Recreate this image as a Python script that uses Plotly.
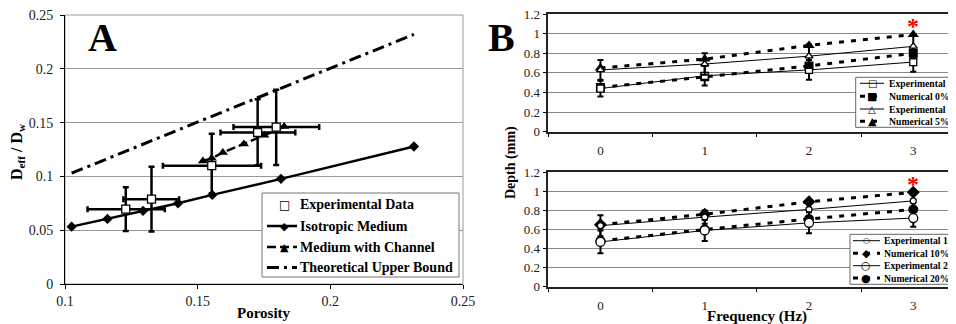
import plotly.graph_objects as go

# The page body adds an 8px margin, so the figure is laid out 8px smaller and
# every target position (in window pixels) is shifted by that offset.
WIN_W, WIN_H = 956, 324
OFF = 8
W, H = WIN_W - OFF, WIN_H - OFF
SERIF = "Liberation Serif"

# ---------------- Panel A data ----------------
iso_x = [0.1025, 0.116, 0.1294, 0.1426, 0.1555, 0.1814, 0.2315]
iso_y = [0.0533, 0.0605, 0.068, 0.075, 0.0828, 0.0977, 0.1278]

chan_x = [0.152, 0.1553, 0.1595, 0.1674, 0.1751, 0.1826]
chan_y = [0.1143, 0.1168, 0.1222, 0.130, 0.1382, 0.1463]

bound_x = [0.1025, 0.2315]
bound_y = [0.103, 0.232]

exp_x = [0.1229, 0.1326, 0.1553, 0.1726, 0.1796]
exp_y = [0.0695, 0.0788, 0.110, 0.1408, 0.1458]
exp_x_lo = [0.1085, 0.1220, 0.1369, 0.1586, 0.1635]
exp_x_hi = [0.1376, 0.1430, 0.1739, 0.1868, 0.1958]
exp_y_lo = [0.0493, 0.0487, 0.0844, 0.1103, 0.1105]
exp_y_hi = [0.0900, 0.1090, 0.1396, 0.1718, 0.1805]

# ---------------- Panel B data ----------------
freq = [0, 1, 2, 3]
exp0 = [0.44, 0.57, 0.63, 0.71]
num0 = [0.45, 0.56, 0.67, 0.80]
exp5 = [0.63, 0.69, 0.77, 0.87]
num5 = [0.65, 0.74, 0.88, 0.99]
err0 = [0.08, 0.10, 0.10, 0.10]
err5 = [0.10, 0.11, 0.12, 0.12]

exp10 = [0.64, 0.73, 0.81, 0.90]
num10 = [0.65, 0.76, 0.89, 0.99]
exp20 = [0.47, 0.59, 0.67, 0.72]
num20 = [0.48, 0.60, 0.71, 0.81]
err10 = [0.11, 0.07, 0.10, 0.10]
err20 = [0.12, 0.11, 0.11, 0.09]

star_y = 1.13

legA = ["Experimental Data", "Isotropic Medium", "Medium with Channel", "Theoretical Upper Bound"]
legB1 = ["Experimental 0%", "Numerical 0%", "Experimental 5%", "Numerical 5%"]
legB2 = ["Experimental 10%", "Numerical 10%", "Experimental 20%", "Numerical 20%"]


def px(x):
    return (x - OFF) / W


def py(y):
    return (H - (y - OFF)) / H


fig = go.Figure()

# ---- Panel A traces ----
fig.add_trace(go.Scatter(x=bound_x, y=bound_y, mode="lines", name=legA[3], showlegend=False,
                         line=dict(color="black", width=3, dash="12px,5px,3px,5px"),
                         xaxis="x", yaxis="y"))
fig.add_trace(go.Scatter(x=iso_x, y=iso_y, mode="lines+markers", name=legA[1], showlegend=False,
                         line=dict(color="black", width=2.5),
                         marker=dict(symbol="diamond", size=8, color="black"),
                         xaxis="x", yaxis="y"))
fig.add_trace(go.Scatter(x=chan_x, y=chan_y, mode="lines+markers", name=legA[2], showlegend=False,
                         line=dict(color="black", width=2.5, dash="9px,4px"),
                         marker=dict(symbol="triangle-up", size=9, color="black"),
                         xaxis="x", yaxis="y"))
fig.add_trace(go.Scatter(
    x=exp_x, y=exp_y, mode="markers", name=legA[0], showlegend=False,
    marker=dict(symbol="square", size=8, color="white", line=dict(color="black", width=1.3)),
    error_x=dict(type="data", symmetric=False,
                 array=[h - v for h, v in zip(exp_x_hi, exp_x)],
                 arrayminus=[v - l for l, v in zip(exp_x_lo, exp_x)],
                 color="black", thickness=2.5, width=3),
    error_y=dict(type="data", symmetric=False,
                 array=[h - v for h, v in zip(exp_y_hi, exp_y)],
                 arrayminus=[v - l for l, v in zip(exp_y_lo, exp_y)],
                 color="black", thickness=2.5, width=3),
    xaxis="x", yaxis="y"))

# ---- Panel B traces ----
def b_traces(xa, ya, names, series):
    for nm, (vals, err, sym, size, dashed) in zip(names, series):
        if dashed:
            fig.add_trace(go.Scatter(x=freq, y=vals, mode="lines+markers", showlegend=False, name=nm,
                                     line=dict(color="black", width=3, dash="5px,7px"),
                                     marker=dict(symbol=sym, size=size, color="black"),
                                     xaxis=xa, yaxis=ya))
        else:
            fig.add_trace(go.Scatter(x=freq, y=vals, mode="lines+markers", showlegend=False, name=nm,
                                     line=dict(color="black", width=1),
                                     marker=dict(symbol=sym, size=size, color="white",
                                                 line=dict(color="black", width=1.3)),
                                     error_y=dict(type="data", array=err, color="black",
                                                  thickness=2, width=3),
                                     xaxis=xa, yaxis=ya))

b_traces("x2", "y2", [legB1[1], legB1[3], legB1[0], legB1[2]], [
    (num0, None, "square", 9, True),
    (num5, None, "triangle-up", 10, True),
    (exp0, err0, "square", 7, False),
    (exp5, err5, "triangle-up", 7, False),
])
b_traces("x3", "y3", [legB2[1], legB2[3], legB2[0], legB2[2]], [
    (num10, None, "diamond", 10, True),
    (num20, None, "circle", 10, True),
    (exp10, err10, "circle", 6, False),
    (exp20, err20, "circle", 9, False),
])

# ---------------- Layout ----------------
A_x = [px(65), px(463)]
A_y = [py(284), py(15)]
B_x = [px(548.3), 1.0]
B1_y = [py(131.7), py(14)]
B2_y = [py(286.7), py(172.3)]
b_right = (WIN_W - 600.7) / 104.2

tickA = dict(family=SERIF, size=14, color="#222")
tickB = dict(family=SERIF, size=13, color="#222")
grid = "#9a9a9a"

common_y = dict(ticks="outside", ticklen=4, tickcolor="black", zeroline=False,
                ticklabeloverflow="allow", showline=True)
common_bx = dict(tickvals=freq, ticktext=[str(f) for f in freq],
                 ticks="outside", ticklen=6, tickcolor="rgba(0,0,0,0)", tickfont=tickB,
                 minor=dict(tickvals=[-0.5, 0.5, 1.5, 2.5, 3.5], ticks="outside", ticklen=4,
                            tickcolor="black", showgrid=False),
                 showgrid=False, showline=True, linecolor="#222", linewidth=1.5, mirror=True,
                 zeroline=False, range=[-0.5, b_right], domain=B_x)

fig.update_layout(
    width=W, height=H, margin=dict(l=0, r=0, t=0, b=0, autoexpand=False),
    paper_bgcolor="white", plot_bgcolor="white", showlegend=False,
    font=dict(family=SERIF, color="black"),
    xaxis=dict(domain=A_x, range=[0.1, 0.25], dtick=0.05, tick0=0.1, showgrid=False,
               showline=True, linecolor="black", linewidth=1, ticks="outside", ticklen=4,
               tickcolor="black", tickfont=tickA, zeroline=False, anchor="y",
               ticklabeloverflow="allow"),
    yaxis=dict(domain=A_y, range=[0, 0.25], dtick=0.05, showgrid=True, gridcolor=grid, gridwidth=1,
               linecolor="black", linewidth=1, tickfont=tickA, anchor="x",
               ticklabelstandoff=4, **common_y),
    xaxis2=dict(anchor="y2", **common_bx),
    yaxis2=dict(domain=B1_y, range=[0, 1.2], dtick=0.2, showgrid=True, gridcolor="#8a8a8a",
                linecolor="#222", linewidth=1.5, tickfont=tickB, anchor="x2", **common_y),
    xaxis3=dict(anchor="y3", **common_bx),
    yaxis3=dict(domain=B2_y, range=[0, 1.2], dtick=0.2, showgrid=True, gridcolor="#8a8a8a",
                linecolor="#222", linewidth=1.5, tickfont=tickB, anchor="x3", **common_y),
)

shapes = []
# panel A gray frame (top/right)
shapes.append(dict(type="rect", xref="x domain", yref="y domain", x0=0, x1=1, y0=0, y1=1,
                   line=dict(color=grid, width=1), layer="below"))

annotations = []
annotations.append(dict(text="<b>A</b>", x=px(102), y=py(37), xref="paper", yref="paper",
                        showarrow=False, font=dict(family=SERIF, size=40, color="black"),
                        xanchor="center", yanchor="middle"))
annotations.append(dict(text="<b>B</b>", x=px(502), y=py(37), xref="paper", yref="paper",
                        showarrow=False, font=dict(family=SERIF, size=40, color="black"),
                        xanchor="center", yanchor="middle"))
annotations.append(dict(text="<b>Porosity</b>", x=px(264), y=py(313), xref="paper", yref="paper",
                        showarrow=False, font=dict(family=SERIF, size=15, color="black"),
                        xanchor="center", yanchor="middle"))
annotations.append(dict(text="<b>D<sub>eff</sub> / D<sub>w</sub></b>", x=px(17), y=py(152),
                        xref="paper", yref="paper", textangle=-90,
                        showarrow=False, font=dict(family=SERIF, size=16, color="black"),
                        xanchor="center", yanchor="middle"))
annotations.append(dict(text="<b>Frequency (Hz)</b>", x=px(757), y=py(316), xref="paper", yref="paper",
                        showarrow=False, font=dict(family=SERIF, size=15, color="black"),
                        xanchor="center", yanchor="middle"))
annotations.append(dict(text="<b>Depth (mm)</b>", x=px(511), y=py(163), xref="paper", yref="paper",
                        textangle=-90, showarrow=False, font=dict(family=SERIF, size=14, color="black"),
                        xanchor="center", yanchor="middle"))
for xa, ya in (("x2", "y2"), ("x3", "y3")):
    annotations.append(dict(text="<b>*</b>", x=freq[3], y=star_y, xref=xa, yref=ya, yshift=-5,
                            showarrow=False, font=dict(family=SERIF, size=24, color="red"),
                            xanchor="center", yanchor="middle"))


def manual_legend(box, rows, x_line0, x_line1, x_mark, x_text, labels, keys, font_size, box_color):
    x0, x1, y0, y1 = box
    shapes.append(dict(type="rect", xref="paper", yref="paper", x0=px(x0), x1=px(x1),
                       y0=py(y1), y1=py(y0), line=dict(color=box_color, width=1),
                       fillcolor="white", layer="above"))
    for r, lab, k in zip(rows, labels, keys):
        glyph, gsize, lw, dash = k
        if lw:
            shapes.append(dict(type="line", xref="paper", yref="paper", x0=px(x_line0), x1=px(x_line1),
                               y0=py(r), y1=py(r), layer="above",
                               line=dict(color="black", width=lw, dash=dash)))
        if glyph:
            annotations.append(dict(text=glyph, x=px(x_mark), y=py(r),
                                    xref="paper", yref="paper", showarrow=False,
                                    font=dict(family="DejaVu Sans", size=gsize, color="black"),
                                    xanchor="center", yanchor="middle"))
        annotations.append(dict(text="<b>" + lab + "</b>", x=px(x_text), y=py(r), xref="paper",
                                yref="paper", showarrow=False,
                                font=dict(family=SERIF, size=font_size, color="black"),
                                xanchor="left", yanchor="middle"))

manual_legend((262, 459, 193, 277), [204.5, 226, 247, 267.5], 267, 297, 284, 298, legA,
              [("□", 12, 0, "solid"), ("◆", 11, 2.5, "solid"),
               ("▲", 11, 2.5, "9px,4px"), ("", 0, 3, "12px,5px,3px,5px")], 14, "#777")
manual_legend((855.7, WIN_W + 20, 77.3, 127.3), [83.3, 96.3, 109.0, 121.3], 860, 884, 872, 886.5, legB1,
              [("□", 10, 1, "solid"), ("■", 11, 3, "5px,7px"), ("△", 10, 1, "solid"),
               ("▲", 11, 3, "5px,7px")], 9.7, "#666")
manual_legend((850.0, WIN_W + 20, 234.3, 284.3), [240.7, 253.3, 265.7, 278.0], 853, 880, 866, 881.5, legB2,
              [("○", 8, 1, "solid"), ("◆", 11, 3, "5px,7px"), ("○", 11, 1, "solid"),
               ("●", 11, 3, "5px,7px")], 9.7, "#666")

fig.update_layout(shapes=shapes, annotations=annotations)

fig.write_html("out.html")
